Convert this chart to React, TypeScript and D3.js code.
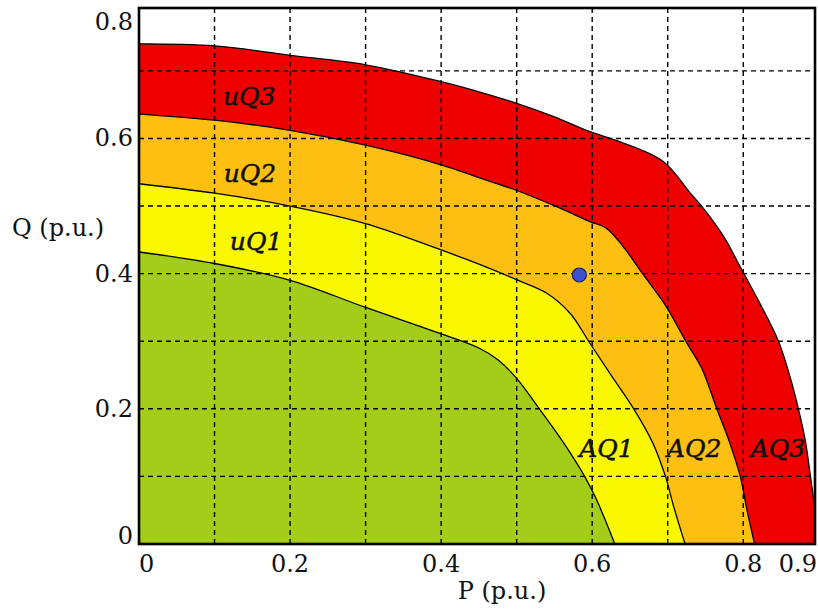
import React from 'react';
import * as d3 from 'd3';

// ---- data ----
const greenP = [0, 0.1, 0.2, 0.3, 0.4, 0.45, 0.476, 0.5, 0.53, 0.562, 0.59, 0.606, 0.63];
const greenQ = [0.432, 0.415, 0.39, 0.35, 0.311, 0.29, 0.272, 0.245, 0.2, 0.15, 0.1, 0.065, 0];

const yellowP = [0, 0.1, 0.2, 0.3, 0.4, 0.45, 0.5, 0.54, 0.571, 0.597, 0.625, 0.655, 0.68, 0.697, 0.708, 0.723];
const yellowQ = [0.533, 0.519, 0.5, 0.474, 0.435, 0.414, 0.391, 0.371, 0.341, 0.297, 0.25, 0.2, 0.15, 0.1, 0.055, 0];

const orangeP = [0, 0.1, 0.2, 0.3, 0.4, 0.45, 0.5, 0.553, 0.597, 0.619, 0.641, 0.668, 0.697, 0.725, 0.745, 0.765, 0.782, 0.796, 0.805, 0.815];
const orangeQ = [0.636, 0.627, 0.612, 0.59, 0.561, 0.542, 0.523, 0.499, 0.477, 0.467, 0.44, 0.398, 0.353, 0.298, 0.26, 0.2, 0.15, 0.1, 0.05, 0];

const redP = [0, 0.1, 0.2, 0.3, 0.4, 0.45, 0.5, 0.55, 0.597, 0.637, 0.694, 0.73, 0.747, 0.774, 0.796, 0.822, 0.847, 0.862, 0.873, 0.882, 0.889, 0.895, 0.9];
const redQ = [0.74, 0.737, 0.723, 0.709, 0.684, 0.669, 0.652, 0.632, 0.61, 0.595, 0.566, 0.519, 0.497, 0.455, 0.41, 0.356, 0.299, 0.247, 0.2, 0.154, 0.1, 0.05, 0];

const pointP = [0.583];
const pointQ = [0.398];

const regionLabels = ['uQ3', 'uQ2', 'uQ1', 'AQ1', 'AQ2', 'AQ3'];
const regionLabelP = [0.146, 0.147, 0.155, 0.619, 0.735, 0.846];
const regionLabelQ = [0.65, 0.536, 0.435, 0.129, 0.129, 0.129];

const xTicks = [0, 0.2, 0.4, 0.6, 0.8, 0.9];
const xTickLabels = ['0', '0.2', '0.4', '0.6', '0.8', '0.9'];
const yTicks = [0, 0.2, 0.4, 0.6, 0.8];
const yTickLabels = ['0', '0.2', '0.4', '0.6', '0.8'];
const xGrid = [0.1, 0.2, 0.3, 0.4, 0.5, 0.6, 0.7, 0.8];
const yGrid = [0.1, 0.2, 0.3, 0.4, 0.5, 0.6, 0.7];

const xLabel = 'P (p.u.)';
const yLabel = 'Q (p.u.)';

// ---- layout ----
const W = 818, H = 611;
const L = 139, R = 815, T = 8, B = 544;
const FONT = '"DejaVu Serif", "Liberation Serif", serif';

const COLORS = {
  red: '#ee0000',
  orange: '#fdbf12',
  yellow: '#f9f800',
  green: '#a3cd18',
};

export default function App() {
  const x = d3.scaleLinear().domain([0, 0.895]).range([L, R]);
  const y = d3.scaleLinear().domain([0, 0.793]).range([B, T]);

  const zip = (ps: number[], qs: number[]) => ps.map((p, i) => [p, qs[i]] as [number, number]);

  const curve = d3.curveCatmullRom.alpha(0.5);
  const area = d3.area<[number, number]>()
    .x(d => x(d[0]))
    .y0(y(0))
    .y1(d => y(d[1]))
    .curve(curve);
  const line = d3.line<[number, number]>()
    .x(d => x(d[0]))
    .y(d => y(d[1]))
    .curve(curve);

  const bands = [
    { pts: zip(redP, redQ), color: COLORS.red },
    { pts: zip(orangeP, orangeQ), color: COLORS.orange },
    { pts: zip(yellowP, yellowQ), color: COLORS.yellow },
    { pts: zip(greenP, greenQ), color: COLORS.green },
  ];

  return (
    <svg width={W} height={H} style={{ position: 'absolute', left: 0, top: 0, background: '#fff' }}>
      <defs>
        <clipPath id="plotclip">
          <rect x={L} y={T} width={R - L} height={B - T} />
        </clipPath>
      </defs>
      <rect x={0} y={0} width={W} height={H} fill="#fff" />
      <g clipPath="url(#plotclip)">
        {bands.map((b, i) => (
          <path key={'a' + i} d={area(b.pts) || ''} fill={b.color} stroke="none" />
        ))}
        {bands.map((b, i) => (
          <path key={'l' + i} d={line(b.pts) || ''} fill="none" stroke="#000" strokeWidth={1.3} />
        ))}
        {xGrid.map((v, i) => (
          <line key={'gx' + i} x1={x(v)} x2={x(v)} y1={T} y2={B} stroke="#000" strokeWidth={1.4} strokeDasharray="5,4" />
        ))}
        {yGrid.map((v, i) => (
          <line key={'gy' + i} x1={L} x2={R} y1={y(v)} y2={y(v)} stroke="#000" strokeWidth={1.4} strokeDasharray="5,4" />
        ))}
        {pointP.map((p, i) => (
          <circle key={'p' + i} cx={x(p)} cy={y(pointQ[i])} r={7} fill="#3d50cf" stroke="#1a1f5a" strokeWidth={1.2} />
        ))}
        {regionLabels.map((t, i) => (
          <text key={'r' + i} x={x(regionLabelP[i])} y={y(regionLabelQ[i])} textAnchor="middle"
            fontFamily={FONT} fontStyle="italic" fontWeight={400} fontSize={25} fill="#111"
            stroke="#111" strokeWidth={0.5}>{t}</text>
        ))}
      </g>
      <rect x={L} y={T} width={R - L} height={B - T} fill="none" stroke="#000" strokeWidth={2.6} />
      {xTicks.map((v, i) => (
        <text key={'xt' + i}
          x={i === 0 ? L : i === xTicks.length - 1 ? 817 : x(v)}
          y={572}
          textAnchor={i === 0 ? 'start' : i === xTicks.length - 1 ? 'end' : 'middle'}
          fontFamily={FONT} fontSize={24} fill="#111">{xTickLabels[i]}</text>
      ))}
      {yTicks.map((v, i) => (
        <text key={'yt' + i}
          x={133}
          y={Math.min(B, Math.max(T + 22, y(v) + 8))}
          textAnchor="end"
          fontFamily={FONT} fontSize={24} fill="#111">{yTickLabels[i]}</text>
      ))}
      <text x={12} y={236} fontFamily={FONT} fontSize={24} fill="#111">{yLabel}</text>
      <text x={(L + R) / 2 + 25} y={599} textAnchor="middle" fontFamily={FONT} fontSize={24} fill="#111">{xLabel}</text>
    </svg>
  );
}
